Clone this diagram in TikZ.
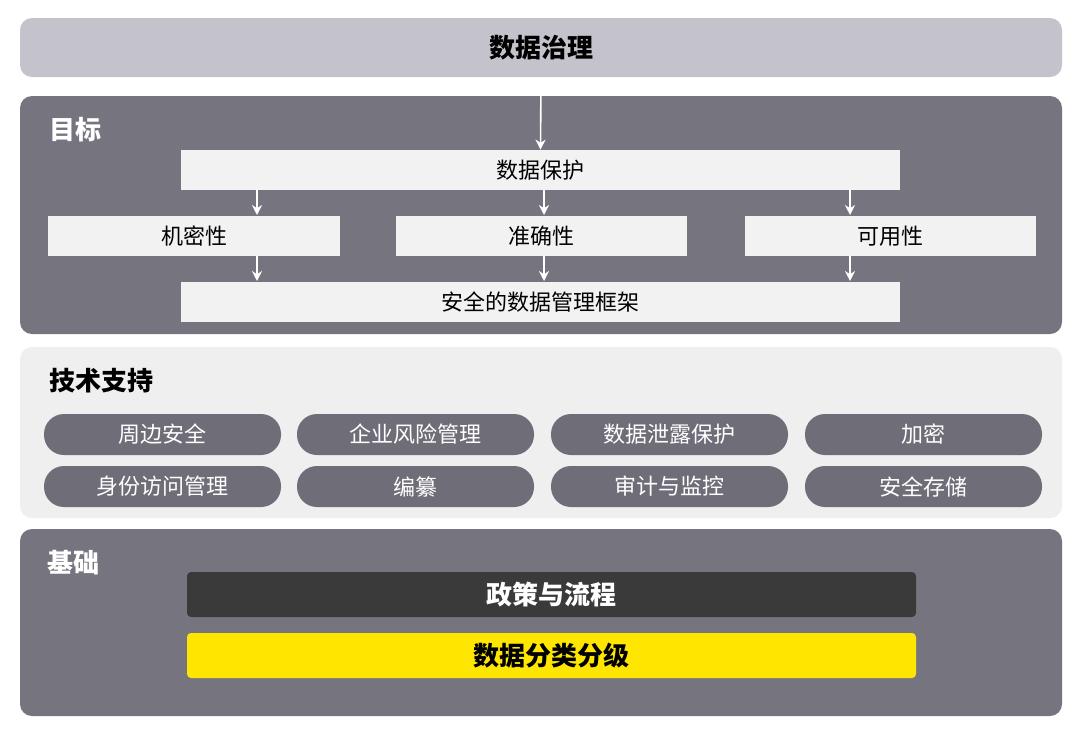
\documentclass[tikz,border=0pt]{standalone}
\usepackage{fontspec}
\setmainfont{Noto Sans CJK SC}
\usetikzlibrary{positioning,arrows.meta}
\definecolor{barlav}{HTML}{C4C3CC}
\definecolor{panel}{HTML}{76757F}
\definecolor{pillc}{HTML}{6F6E78}
\definecolor{lightp}{HTML}{EFEFEF}
\definecolor{boxw}{HTML}{F2F2F2}
\definecolor{darkb}{HTML}{3A3A3A}
\definecolor{ygold}{HTML}{FFE600}
\tikzset{
  P panel/.style={rounded corners=6pt,inner sep=0pt},
  G box/.style={fill=boxw,inner sep=0pt,font=\fontsize{11}{13}\selectfont},
  T pill/.style={fill=pillc,rounded corners=10pt,inner sep=0pt,text=white,font=\fontsize{11}{13}\selectfont,minimum width=118.5pt,minimum height=20.5pt},
  H label/.style={anchor=west,font=\fontsize{13}{15}\selectfont\bfseries},
  W arrow/.style={white,thick,-{Stealth[length=5pt,width=5pt]}},
}
\begin{document}
\begin{tikzpicture}[x=0.5pt,y=-0.5pt]
  \useasboundingbox (0,0) rectangle (1080,734);
  \fill[white] (0,0) rectangle (1080,734);
  % panels
  \node[P panel,fill=barlav,minimum width=521pt,minimum height=29.5pt] (gov) at (541,47.5) {\fontsize{13}{15}\selectfont\bfseries 数据治理};
  \node[P panel,fill=panel,minimum width=521pt,minimum height=119pt] (goal) at (541,215) {};
  \node[P panel,fill=lightp,minimum width=521pt,minimum height=85.5pt] (tech) at (541,432.5) {};
  \node[P panel,fill=panel,minimum width=521pt,minimum height=93.5pt] (base) at (541,622.5) {};
  \node[H label,text=white] (goalt) at (42,130) {目标};
  \node[H label] (techt) at (42,381) {技术支持};
  \node[H label,text=white] (baset) at (40,563) {基础};
  % goal boxes
  \node[G box,minimum width=359.5pt,minimum height=20pt] (prot) at (540.5,170) {数据保护};
  \node[G box,minimum width=146pt,minimum height=20pt] (conf) at (194,236) {机密性};
  \node[G box,minimum width=145.5pt,minimum height=20pt] (accu) at (541.5,236) {准确性};
  \node[G box,minimum width=145.5pt,minimum height=20pt] (avai) at (890.5,236) {可用性};
  \node[G box,minimum width=359.5pt,minimum height=20pt] (fram) at (540.5,302) {安全的数据管理框架};
  \draw[W arrow] (gov.south) -- (prot.north);
  \foreach \x in {257,544,850} {
    \draw[W arrow] (\x,190) -- (\x,215);
    \draw[W arrow] (\x,256) -- (\x,281);
  }
  % tech pills
  \node[T pill] (t1) at (162.5,434.5) {周边安全};
  \node[T pill] (t2) at (415.5,434.5) {企业风险管理};
  \node[T pill] (t3) at (669.5,434.5) {数据泄露保护};
  \node[T pill] (t4) at (923.5,434.5) {加密};
  \node[T pill] (t5) at (162.5,486.5) {身份访问管理};
  \node[T pill] (t6) at (415.5,486.5) {编纂};
  \node[T pill] (t7) at (669.5,486.5) {审计与监控};
  \node[T pill] (t8) at (923.5,486.5) {安全存储};
  % base boxes
  \node[fill=darkb,rounded corners=2pt,text=white,minimum width=364.5pt,minimum height=22.5pt,inner sep=0pt,font=\fontsize{13}{15}\selectfont\bfseries] (poli) at (551.5,594.5) {政策与流程};
  \node[fill=ygold,rounded corners=2pt,minimum width=364.5pt,minimum height=22.5pt,inner sep=0pt,font=\fontsize{13}{15}\selectfont\bfseries] (clas) at (551.5,655.5) {数据分类分级};
\end{tikzpicture}
\end{document}
